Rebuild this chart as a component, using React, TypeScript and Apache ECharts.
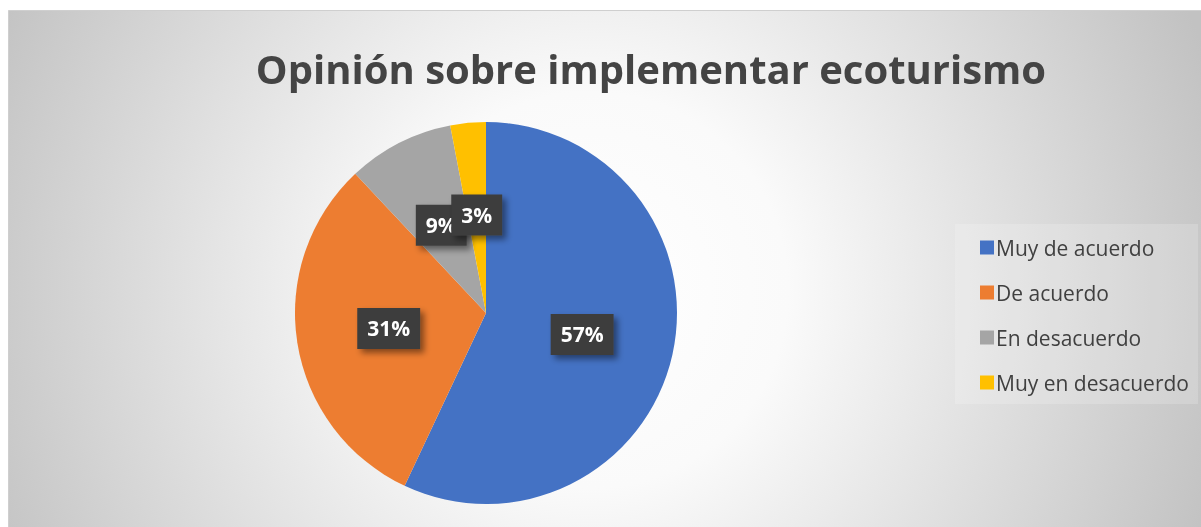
import React, { useEffect, useRef } from "react";
import * as echarts from "echarts";

const categories = ["Muy de acuerdo", "De acuerdo", "En desacuerdo", "Muy en desacuerdo"];
const values = [57, 31, 9, 3];
const colors = ["#4472C4", "#ED7D31", "#A5A5A5", "#FFC000"];
const titleText = "Opinión sobre implementar ecoturismo";

export default function App() {
  const ref = useRef<HTMLDivElement>(null);
  useEffect(() => {
    if (!ref.current) return;
    const chart = echarts.init(ref.current, undefined, { renderer: "svg" });
    chart.setOption({
      animation: false,
      graphic: [
        {
          type: "rect",
          z: -10,
          silent: true,
          shape: { x: 8.5, y: 10.5, width: 1200, height: 520 },
          style: {
            fill: {
              type: "radial",
              x: 590,
              y: 290,
              r: 660,
              global: true,
              colorStops: [
                { offset: 0, color: "#ffffff" },
                { offset: 0.3, color: "#fafafa" },
                { offset: 1, color: "#c2c2c2" },
              ],
            },
            stroke: "#cfcfcf",
            lineWidth: 1,
          },
        },
        {
          type: "rect",
          z: -9,
          silent: true,
          shape: { x: 955, y: 224, width: 243, height: 180 },
          style: { fill: "rgba(255,255,255,0.18)" },
        },
      ],
      title: {
        text: titleText,
        left: 646,
        top: 37,
        textAlign: "center",
        textStyle: {
          fontFamily: "Open Sans",
          fontWeight: "bold",
          fontSize: 40,
          lineHeight: 52,
          color: "#444444",
        },
      },
      legend: {
        orient: "vertical",
        left: 975,
        top: 232,
        itemWidth: 14,
        itemHeight: 14,
        itemGap: 24,
        icon: "rect",
        data: categories,
        textStyle: {
          fontFamily: "Open Sans",
          fontSize: 21,
          lineHeight: 20,
          color: "#404040",
          padding: [0, 0, 0, -3],
        },
      },
      series: [
        {
          type: "pie",
          center: [486, 313],
          radius: 191,
          startAngle: 90,
          clockwise: true,
          avoidLabelOverlap: false,
          labelLayout: { hideOverlap: false },
          data: categories.map((name, i) => ({
            name,
            value: values[i],
            itemStyle: { color: colors[i] },
          })),
          label: {
            show: true,
            position: "inside",
            formatter: (p: any) => `${Math.round(p.percent)}%`,
            fontFamily: "Open Sans",
            fontWeight: "bold",
            fontSize: 21,
            color: "#ffffff",
            backgroundColor: "#3d3d3d",
            padding: [11, 10, 9, 10],
            shadowColor: "rgba(0,0,0,0.45)",
            shadowBlur: 6,
            shadowOffsetX: 4,
            shadowOffsetY: 4,
          },
          labelLine: { show: false },
          emphasis: { disabled: true },
        },
      ],
    });
    return () => chart.dispose();
  }, []);
  return (
    <div
      ref={ref}
      style={{ position: "fixed", left: 0, top: 0, width: 1201, height: 527 }}
    />
  );
}
